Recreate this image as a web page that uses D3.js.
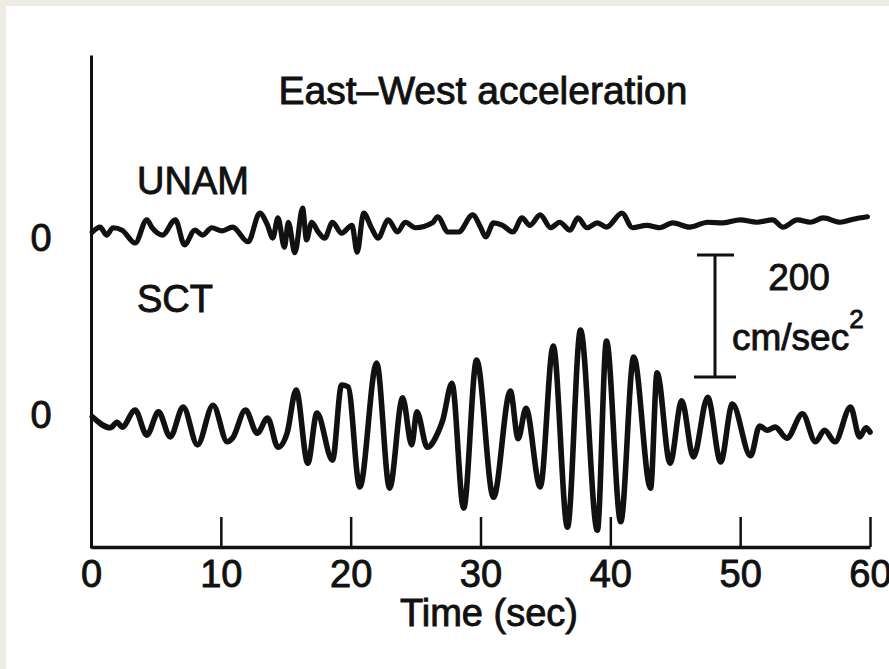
<!DOCTYPE html>
<html><head><meta charset="utf-8">
<script src="https://cdn.jsdelivr.net/npm/d3@7"></script>
<style>
body{margin:0;background:#efece5;}
svg{display:block}
text{font-family:"Liberation Sans",Arial,Helvetica,sans-serif;fill:#111;stroke:#111;stroke-width:0.9px}
</style>
</head><body>
<svg id="c" width="889" height="669"></svg>
<script>
// ---- data ----
const title = "East\u2013West acceleration";
const xLabel = "Time (sec)";
const timeTicks = [0, 10, 20, 30, 40, 50, 60];
const stationNames = ["UNAM", "SCT"];
const zeroLabel = "0";
const scaleBarValue = 200;           // cm/sec^2
const scaleBarUnit = "cm/sec";
// [time (s), acceleration (cm/s^2)]
const unamSeries = [[0.1,0],[0.7,8],[1.2,-5],[1.7,7],[2.4,3],[3.4,-18],[4.3,20],[4.7,7],[5.5,-5],[6.5,20],[7.2,-21],[8.0,3],[8.6,-5],[9.3,7],[10.1,2],[10.9,8],[12.1,-16],[13.0,31],[13.6,11],[14.0,-10],[14.4,23],[14.9,-25],[15.2,16],[15.7,-34],[16.3,39],[16.6,-13],[17.0,16],[17.5,0],[18.0,-10],[18.6,16],[19.3,-2],[20.1,11],[20.5,-33],[21.0,31],[21.6,7],[22.1,-10],[22.9,20],[23.6,0],[24.2,16],[25.0,7],[26.3,15],[26.7,25],[27.5,0],[28.3,0],[29.4,28],[30.0,8],[30.4,-8],[31.0,15],[31.7,11],[32.5,0],[33.2,23],[33.8,11],[34.6,28],[35.4,7],[36.1,16],[36.9,3],[37.5,23],[38.2,7],[39.0,15],[39.7,8],[40.9,31],[41.7,7],[42.8,11],[43.8,7],[44.8,15],[46.1,8],[47.5,16],[48.7,15],[50.0,20],[51.3,16],[52.5,20],[53.3,8],[54.4,20],[55.4,16],[56.4,23],[57.7,16],[58.7,21],[59.8,25]];
const sctSeries = [[0.1,2],[1.5,-16],[2.0,-7],[2.4,-15],[3.4,13],[4.3,-28],[5.2,10],[6.1,-31],[7.1,18],[8.2,-44],[9.4,21],[10.5,-39],[10.9,-33],[11.9,13],[12.8,-25],[13.6,0],[14.4,-48],[15.1,-25],[15.8,46],[16.7,-74],[17.4,8],[18.6,-69],[19.3,54],[19.8,51],[20.7,-113],[22.0,90],[23.0,-115],[24.0,33],[24.7,-44],[25.1,10],[25.9,-48],[26.7,-25],[27.1,-3],[27.8,57],[28.7,-148],[29.7,95],[31.0,-130],[32.3,44],[32.9,-34],[33.5,16],[34.6,-113],[35.6,118],[36.7,-179],[37.7,144],[39.0,-184],[39.7,126],[40.8,-170],[41.8,100],[43.1,-115],[43.6,74],[44.6,-74],[45.5,28],[46.4,-64],[47.5,34],[48.5,-72],[49.4,23],[50.8,-62],[51.5,-13],[52.1,-20],[52.7,-15],[53.6,-33],[54.8,7],[55.8,-39],[56.5,-20],[57.3,-39],[58.5,18],[59.2,-31],[59.7,-16],[60.0,-23]];

// ---- layout ----
const svg = d3.select("#c");
svg.append("rect").attr("x",6).attr("y",6).attr("width",883).attr("height",663).attr("fill","#fff");

const x = d3.scaleLinear().domain([0, 60]).range([91, 870]);
const pxPerUnit = 0.61;
const zeros = {UNAM: 232, SCT: 418};
const yFor = z => d3.scaleLinear().domain([-200, 200]).range([z + 200*pxPerUnit, z - 200*pxPerUnit]);
const yU = yFor(zeros.UNAM), yS = yFor(zeros.SCT);

// left axis line
const yAxisScale = d3.scaleLinear().domain([0,1]).range([548, 55]);
const gy = svg.append("g").attr("transform","translate(91,0)")
  .call(d3.axisLeft(yAxisScale).tickValues([]).tickSizeOuter(0));
gy.select(".domain").attr("stroke","#111").attr("stroke-width",3);

// bottom axis
const gx = svg.append("g").attr("transform","translate(0,547)")
  .call(d3.axisBottom(x).tickValues(timeTicks).tickSizeInner(-30).tickSizeOuter(0).tickPadding(13));
gx.select(".domain").attr("stroke","#111").attr("stroke-width",3.5);
gx.selectAll(".tick line").attr("stroke","#111").attr("stroke-width",2.5)
  .attr("display", d => d === 0 ? "none" : null);
gx.selectAll(".tick text").attr("font-size",38).attr("font-family",null).attr("fill",null);

// axis title
svg.append("text").attr("x",489).attr("y",626).attr("text-anchor","middle").attr("font-size",38).text(xLabel);
// chart title
svg.append("text").attr("x",483).attr("y",104).attr("text-anchor","middle").attr("font-size",39).text(title);

// station labels and zero labels
svg.append("text").attr("x",137).attr("y",194).attr("font-size",38).text(stationNames[0]);
svg.append("text").attr("x",137).attr("y",312).attr("font-size",38).text(stationNames[1]);
svg.append("text").attr("x",41).attr("y",251).attr("text-anchor","middle").attr("font-size",38).text(zeroLabel);
svg.append("text").attr("x",41).attr("y",428).attr("text-anchor","middle").attr("font-size",38).text(zeroLabel);

// traces
const lineU = d3.line().x(d => x(d[0])).y(d => yU(d[1])).curve(d3.curveMonotoneX);
const lineS = d3.line().x(d => x(d[0])).y(d => yS(d[1])).curve(d3.curveMonotoneX);
svg.append("path").datum(unamSeries).attr("d", lineU).attr("fill","none").attr("stroke","#111")
  .attr("stroke-width",5.2).attr("stroke-linejoin","round").attr("stroke-linecap","round");
svg.append("path").datum(sctSeries).attr("d", lineS).attr("fill","none").attr("stroke","#111")
  .attr("stroke-width",5.6).attr("stroke-linejoin","round").attr("stroke-linecap","round");

// scale bar
const barScale = d3.scaleLinear().domain([0, scaleBarValue]).range([377, 377 - scaleBarValue*pxPerUnit]);
const bx = 715;
const bar = svg.append("g").attr("stroke","#111").attr("stroke-width",3);
bar.append("line").attr("x1",bx).attr("x2",bx).attr("y1",barScale(0)).attr("y2",barScale(scaleBarValue));
bar.append("line").attr("x1",697).attr("x2",734).attr("y1",barScale(scaleBarValue)).attr("y2",barScale(scaleBarValue));
bar.append("line").attr("x1",694).attr("x2",736).attr("y1",barScale(0)).attr("y2",barScale(0));
svg.append("text").attr("x",799).attr("y",290).attr("text-anchor","middle").attr("font-size",37).text(scaleBarValue);
const unit = svg.append("text").attr("x",732).attr("y",350).attr("font-size",37);
unit.append("tspan").text(scaleBarUnit);
unit.append("tspan").attr("font-size",26).attr("dy",-22).text("2");
</script>
</body></html>
